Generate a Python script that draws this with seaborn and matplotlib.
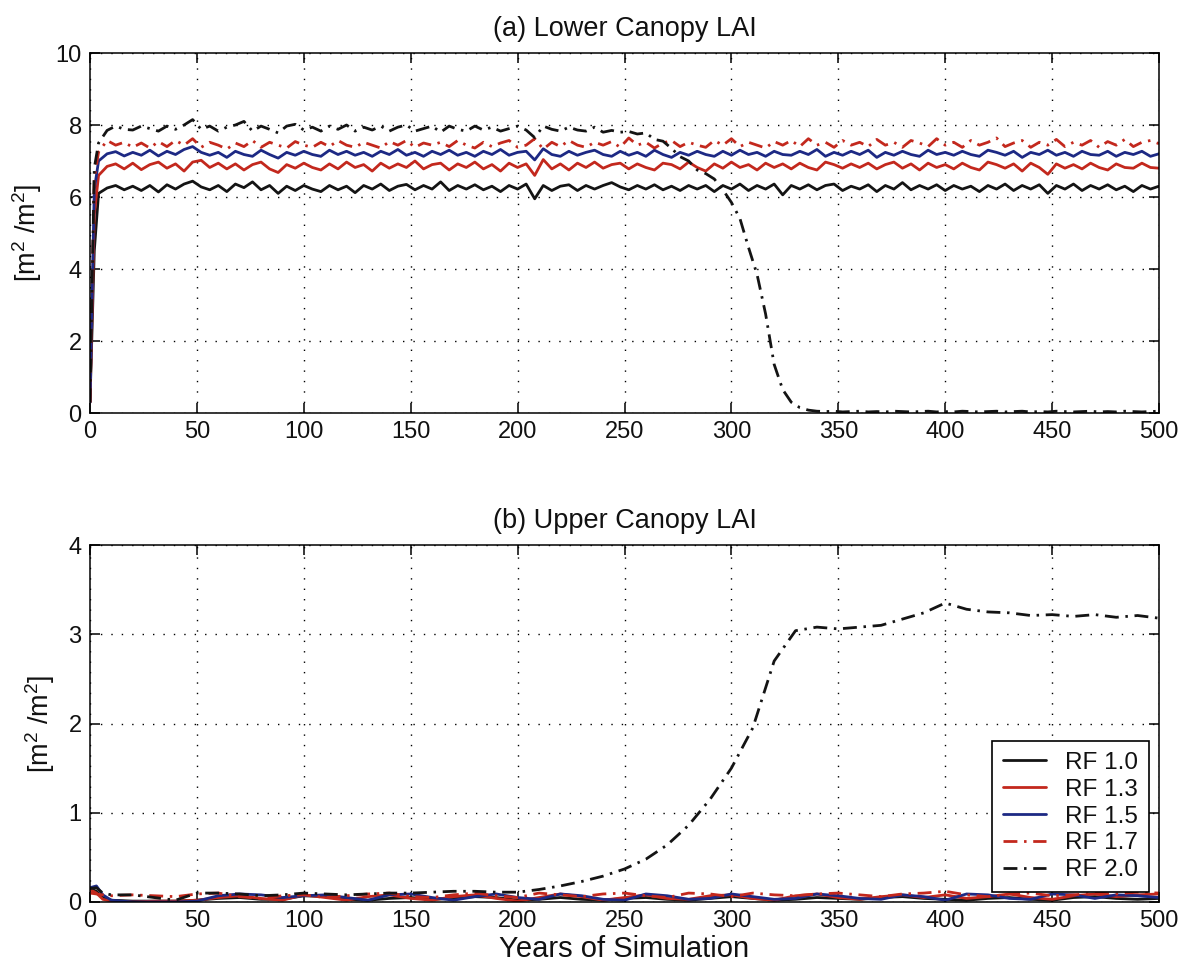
import numpy as np
import pandas as pd
import matplotlib
matplotlib.use("Agg")
import matplotlib.pyplot as plt
import seaborn as sns

# ---------------- data ----------------
LABELS = ["RF 1.0", "RF 1.3", "RF 1.5", "RF 1.7", "RF 2.0"]

# lower canopy LAI, sampled at years 0, 2, 4, 8, 12, ..., 500
YEARS_LOWER = np.concatenate([[0, 2], np.arange(4, 501, 4)])

LOWER_RF10 = [0.30, 4.50, 6.10,
    6.25, 6.32, 6.20, 6.30, 6.18, 6.32, 6.14, 6.34, 6.22, 6.36,
    6.44, 6.28, 6.20, 6.32, 6.15, 6.36, 6.26, 6.42, 6.20, 6.32,
    6.10, 6.30, 6.18, 6.32, 6.22, 6.15, 6.32, 6.20, 6.30, 6.12,
    6.32, 6.22, 6.36, 6.18, 6.30, 6.35, 6.20, 6.32, 6.22, 6.42,
    6.18, 6.32, 6.22, 6.34, 6.20, 6.30, 6.15, 6.32, 6.22, 6.36,
    5.95, 6.32, 6.18, 6.30, 6.34, 6.18, 6.32, 6.22, 6.32, 6.40,
    6.28, 6.20, 6.32, 6.22, 6.34, 6.20, 6.30, 6.18, 6.32, 6.22,
    6.32, 6.15, 6.32, 6.22, 6.36, 6.18, 6.32, 6.22, 6.36, 6.06,
    6.32, 6.22, 6.34, 6.20, 6.32, 6.36, 6.18, 6.30, 6.22, 6.34,
    6.15, 6.32, 6.22, 6.40, 6.20, 6.32, 6.22, 6.34, 6.18, 6.32,
    6.22, 6.30, 6.15, 6.32, 6.22, 6.36, 6.18, 6.32, 6.22, 6.34,
    6.10, 6.32, 6.22, 6.36, 6.18, 6.32, 6.22, 6.34, 6.20, 6.30,
    6.15, 6.32, 6.22, 6.30]

LOWER_RF13 = [0.30, 5.50, 6.60,
    6.85, 6.92, 6.78, 6.94, 6.76, 6.90, 6.97, 6.80, 6.92, 6.72,
    6.97, 7.02, 6.82, 6.94, 6.78, 6.92, 6.75, 6.90, 6.97, 6.78,
    6.68, 6.90, 6.80, 6.94, 6.82, 6.75, 6.92, 6.78, 6.97, 6.82,
    6.90, 6.72, 6.94, 6.80, 6.92, 6.82, 7.00, 6.78, 6.90, 6.94,
    6.75, 6.92, 6.82, 6.97, 6.78, 6.90, 6.72, 6.94, 6.82, 6.92,
    6.60, 7.04, 6.78, 6.92, 6.75, 6.94, 6.82, 6.97, 6.80, 6.90,
    6.94, 6.78, 6.92, 6.82, 6.75, 6.94, 6.90, 6.78, 6.97, 6.82,
    6.72, 6.92, 6.80, 6.97, 6.82, 6.90, 6.75, 6.94, 6.82, 6.92,
    6.78, 6.94, 6.82, 6.75, 6.97, 6.90, 6.80, 6.92, 6.82, 6.94,
    6.78, 6.90, 6.97, 6.80, 6.92, 6.75, 6.94, 6.82, 6.90, 6.78,
    6.94, 6.82, 6.75, 6.97, 6.90, 6.80, 6.92, 6.72, 6.94, 6.82,
    6.63, 6.92, 6.80, 6.90, 6.78, 6.94, 6.82, 6.75, 6.92, 6.82,
    6.80, 6.94, 6.82, 6.80]

LOWER_RF15 = [0.30, 6.20, 7.00,
    7.20, 7.26, 7.14, 7.24, 7.16, 7.30, 7.14, 7.27, 7.18, 7.32,
    7.40, 7.24, 7.16, 7.24, 7.10, 7.27, 7.18, 7.13, 7.30, 7.18,
    7.08, 7.24, 7.16, 7.27, 7.18, 7.13, 7.30, 7.18, 7.27, 7.16,
    7.24, 7.13, 7.27, 7.18, 7.32, 7.16, 7.24, 7.13, 7.27, 7.18,
    7.30, 7.16, 7.24, 7.13, 7.27, 7.18, 7.32, 7.16, 7.24, 7.27,
    7.03, 7.34, 7.18, 7.13, 7.27, 7.16, 7.24, 7.30, 7.18, 7.13,
    7.27, 7.16, 7.24, 7.13, 7.30, 7.18, 7.10, 7.24, 7.16, 7.27,
    7.18, 7.13, 7.27, 7.16, 7.30, 7.18, 7.24, 7.13, 7.27, 7.18,
    7.16, 7.27, 7.18, 7.32, 7.13, 7.24, 7.16, 7.27, 7.18, 7.30,
    7.10, 7.24, 7.16, 7.27, 7.18, 7.13, 7.30, 7.18, 7.24, 7.16,
    7.27, 7.18, 7.13, 7.30, 7.24, 7.16, 7.27, 7.10, 7.24, 7.18,
    7.30, 7.16, 7.24, 7.13, 7.27, 7.18, 7.16, 7.27, 7.13, 7.24,
    7.18, 7.27, 7.13, 7.20]

LOWER_RF17 = [0.30, 6.50, 7.25,
    7.57, 7.44, 7.52, 7.38, 7.50, 7.36, 7.54, 7.40, 7.57, 7.44,
    7.62, 7.38, 7.52, 7.44, 7.33, 7.50, 7.40, 7.57, 7.38, 7.52,
    7.44, 7.36, 7.54, 7.44, 7.38, 7.52, 7.40, 7.57, 7.44, 7.38,
    7.52, 7.44, 7.36, 7.54, 7.44, 7.57, 7.38, 7.50, 7.44, 7.52,
    7.40, 7.57, 7.44, 7.36, 7.52, 7.40, 7.50, 7.57, 7.38, 7.44,
    7.62, 7.33, 7.52, 7.40, 7.57, 7.44, 7.38, 7.52, 7.44, 7.54,
    7.38, 7.64, 7.44, 7.52, 7.36, 7.50, 7.57, 7.40, 7.52, 7.44,
    7.38, 7.57, 7.44, 7.62, 7.40, 7.52, 7.44, 7.36, 7.54, 7.44,
    7.57, 7.40, 7.62, 7.44, 7.52, 7.38, 7.57, 7.44, 7.52, 7.40,
    7.60, 7.44, 7.52, 7.38, 7.57, 7.50, 7.40, 7.62, 7.44, 7.52,
    7.38, 7.57, 7.44, 7.52, 7.64, 7.40, 7.50, 7.57, 7.38, 7.52,
    7.44, 7.60, 7.40, 7.52, 7.44, 7.57, 7.38, 7.54, 7.44, 7.60,
    7.40, 7.52, 7.57, 7.48]

LOWER_RF20 = [0.30, 6.80, 7.50,
    7.85, 7.97, 7.88, 7.86, 7.97, 7.90, 7.83, 7.97, 7.88, 8.00,
    8.15, 7.88, 7.97, 7.83, 7.94, 8.00, 8.10, 7.83, 7.97, 7.88,
    7.78, 7.97, 8.02, 7.86, 7.94, 7.83, 7.97, 7.88, 8.00, 7.83,
    7.94, 7.86, 7.97, 7.83, 7.94, 8.00, 7.83, 7.90, 7.97, 7.80,
    7.97, 7.88, 7.83, 7.97, 7.86, 7.94, 7.83, 7.90, 7.97, 7.86,
    7.65, 7.97, 7.88, 7.83, 7.94, 7.86, 7.83, 7.94, 7.80, 7.85,
    7.80, 7.82, 7.75, 7.78, 7.60, 7.55, 7.35, 7.12, 7.00, 6.75,
    6.65, 6.50, 6.20, 5.85, 5.40, 4.60, 3.85, 2.75, 1.35, 0.65,
    0.30, 0.15, 0.08, 0.05, 0.04, 0.05, 0.03, 0.04, 0.05, 0.03,
    0.04, 0.03, 0.05, 0.04, 0.03, 0.04, 0.05, 0.03, 0.04, 0.03,
    0.05, 0.04, 0.03, 0.04, 0.05, 0.03, 0.04, 0.05, 0.03, 0.04,
    0.03, 0.05, 0.04, 0.03, 0.04, 0.05, 0.03, 0.04, 0.03, 0.05,
    0.04, 0.03, 0.04, 0.05]

# upper canopy LAI, sampled at years 0, 3, 6, 10, 20, ..., 500
YEARS_UPPER = np.concatenate([[0, 3, 6], np.arange(10, 501, 10)])

UPPER_RF10 = [0.15, 0.12, 0.05,
    0.02, 0.01, 0.01, 0.01, 0.02, 0.04, 0.05, 0.03, 0.03, 0.07,
    0.06, 0.03, 0.02, 0.04, 0.05, 0.03, 0.04, 0.06, 0.05, 0.02,
    0.03, 0.05, 0.03, 0.02, 0.04, 0.05, 0.03, 0.02, 0.04, 0.06,
    0.04, 0.02, 0.03, 0.05, 0.04, 0.03, 0.05, 0.06, 0.04, 0.03,
    0.02, 0.04, 0.05, 0.03, 0.02, 0.05, 0.06, 0.04, 0.03, 0.04]

UPPER_RF13 = [0.14, 0.10, 0.03,
    0.01, 0.00, 0.01, 0.01, 0.02, 0.05, 0.07, 0.04, 0.02, 0.08,
    0.05, 0.02, 0.06, 0.08, 0.04, 0.02, 0.06, 0.08, 0.04, 0.01,
    0.05, 0.09, 0.06, 0.02, 0.05, 0.08, 0.04, 0.03, 0.07, 0.08,
    0.04, 0.02, 0.07, 0.09, 0.05, 0.03, 0.06, 0.08, 0.05, 0.08,
    0.04, 0.06, 0.09, 0.05, 0.03, 0.07, 0.09, 0.06, 0.08, 0.09]

UPPER_RF15 = [0.16, 0.18, 0.08,
    0.02, 0.00, 0.00, 0.00, 0.01, 0.07, 0.09, 0.08, 0.05, 0.07,
    0.08, 0.05, 0.02, 0.08, 0.09, 0.05, 0.02, 0.06, 0.09, 0.05,
    0.03, 0.09, 0.07, 0.03, 0.02, 0.09, 0.07, 0.03, 0.04, 0.09,
    0.06, 0.03, 0.04, 0.09, 0.07, 0.04, 0.03, 0.08, 0.06, 0.02,
    0.09, 0.08, 0.04, 0.03, 0.09, 0.08, 0.04, 0.08, 0.07, 0.05]

UPPER_RF17 = [0.10, 0.09, 0.08,
    0.07, 0.08, 0.07, 0.06, 0.09, 0.10, 0.06, 0.04, 0.07, 0.08,
    0.05, 0.07, 0.09, 0.10, 0.06, 0.05, 0.08, 0.10, 0.07, 0.05,
    0.10, 0.08, 0.06, 0.09, 0.10, 0.07, 0.05, 0.10, 0.09, 0.06,
    0.10, 0.08, 0.07, 0.09, 0.10, 0.08, 0.06, 0.09, 0.10, 0.12,
    0.08, 0.06, 0.09, 0.10, 0.07, 0.08, 0.10, 0.09, 0.11, 0.10]

UPPER_RF20 = [0.15, 0.16, 0.10,
    0.08, 0.08, 0.05, 0.02, 0.10, 0.10, 0.09, 0.07, 0.08, 0.10,
    0.09, 0.08, 0.09, 0.10, 0.10, 0.11, 0.12, 0.12, 0.11, 0.11,
    0.14, 0.18, 0.23, 0.29, 0.37, 0.48, 0.64, 0.86, 1.15, 1.50,
    1.95, 2.70, 3.04, 3.08, 3.06, 3.08, 3.10, 3.17, 3.24, 3.35,
    3.28, 3.25, 3.24, 3.21, 3.22, 3.20, 3.22, 3.19, 3.21, 3.18]

LOWER = [LOWER_RF10, LOWER_RF13, LOWER_RF15, LOWER_RF17, LOWER_RF20]
UPPER = [UPPER_RF10, UPPER_RF13, UPPER_RF15, UPPER_RF17, UPPER_RF20]

# ---------------- style ----------------
BLACK = "#141414"
RED = "#c3281d"
BLUE = "#1d2984"
COLORS = [BLACK, RED, BLUE, RED, BLACK]
DASHDOT = (0, (5, 2.4, 0.9, 2.4))
STYLES = ["-", "-", "-", DASHDOT, DASHDOT]

sns.set_theme(style="ticks")
plt.rcParams["font.family"] = ["Liberation Sans", "DejaVu Sans"]
plt.rcParams["mathtext.fontset"] = "custom"
plt.rcParams["mathtext.rm"] = "Liberation Sans"
plt.rcParams["mathtext.it"] = "Liberation Sans"
plt.rcParams["axes.edgecolor"] = "black"
plt.rcParams["axes.linewidth"] = 1.1
plt.rcParams["text.color"] = "#111111"
plt.rcParams["axes.labelcolor"] = "#111111"

fig = plt.figure(figsize=(11.9, 9.73), dpi=100)
W, H = 1190.0, 973.0
ax_top = fig.add_axes([90 / W, 1 - 413 / H, 1069 / W, 360 / H])
ax_bot = fig.add_axes([90 / W, 1 - 902 / H, 1069 / W, 357 / H])


def draw_panel(ax, years, series, title, ymax, with_labels):
    frames = []
    for lab, vals in zip(LABELS, series):
        frames.append(pd.DataFrame({"year": years, "lai": vals, "run": lab}))
    df = pd.concat(frames, ignore_index=True)
    for lab, col, ls in zip(LABELS, COLORS, STYLES):
        sub = df[df["run"] == lab]
        kw = {"label": lab} if with_labels else {}
        sns.lineplot(data=sub, x="year", y="lai", ax=ax, color=col,
                     linestyle=ls, linewidth=2.0, sort=False, **kw)
    ax.set_xlim(0, 500)
    ax.set_ylim(0, ymax)
    ax.set_xticks(np.arange(0, 501, 50))
    ax.set_yticks(np.arange(0, ymax + 0.1, 2 if ymax > 5 else 1))
    ax.grid(True, color="black", linestyle=(0, (1, 6.5)), linewidth=1.0)
    ax.tick_params(direction="in", length=7, width=1.1, top=True, right=True,
                   labelsize=17, colors="black", labelcolor="#111111", pad=6)
    for s in ax.spines.values():
        s.set_visible(True)
        s.set_color("black")
    ax.set_title(title, fontsize=19.5, pad=12)
    ax.set_ylabel(r"[m$^{2}$ /m$^{2}$]", fontsize=19.5, labelpad=8)
    ax.set_xlabel("")
    leg = ax.get_legend()
    if leg is not None:
        leg.remove()


draw_panel(ax_top, YEARS_LOWER, LOWER, "(a) Lower Canopy LAI", 10, False)
draw_panel(ax_bot, YEARS_UPPER, UPPER, "(b) Upper Canopy LAI", 4, True)
ax_bot.set_xlabel("Years of Simulation", fontsize=21, labelpad=2)

handles, labels = ax_bot.get_legend_handles_labels()
leg = ax_bot.legend(handles, labels, loc="lower right", fontsize=17.5,
                    handlelength=1.75, labelspacing=0.2, borderpad=0.45,
                    handletextpad=0.8, borderaxespad=0.4, fancybox=False,
                    framealpha=1, edgecolor="black")
leg.get_frame().set_linewidth(1.2)

fig.savefig("out.png", dpi=100, facecolor="white")
